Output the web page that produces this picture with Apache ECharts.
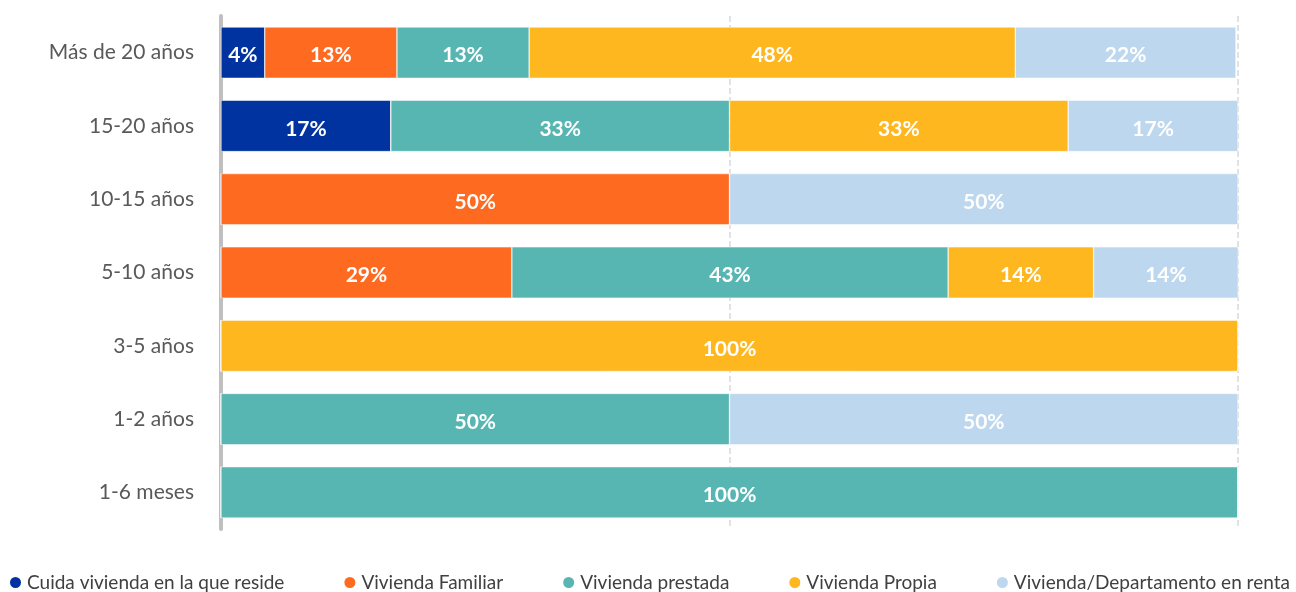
<!DOCTYPE html>
<html>
<head>
<meta charset="utf-8">
<script src="https://cdn.jsdelivr.net/npm/echarts@6/dist/echarts.min.js"></script>
<style>
  html, body { margin: 0; padding: 0; background: #fff; }
  #main { width: 1296px; height: 592px; }
</style>
</head>
<body>
<div id="main"></div>
<script>
// categorias (de abajo hacia arriba)
const categories = ['1-6 meses', '1-2 años', '3-5 años', '5-10 años', '10-15 años', '15-20 años', 'Más de 20 años'];
const seriesNames = ['Cuida vivienda en la que reside', 'Vivienda Familiar', 'Vivienda prestada', 'Vivienda Propia', 'Vivienda/Departamento en renta'];
// porcentajes por categoria
const cuida    = [0, 0, 0, 0, 0, 16.7, 4.3];
const familiar = [0, 0, 0, 28.6, 50, 0, 13.0];
const prestada = [100, 50, 0, 42.9, 0, 33.3, 13.0];
const propia   = [0, 0, 100, 14.3, 0, 33.3, 47.8];
const renta    = [0, 50, 0, 14.3, 50, 16.7, 21.7];
const xTicks = [0, 50, 100];
const colors = ['#0033a0', '#ff6a21', '#57b6b2', '#ffb71f', '#bdd7ee'];

const chart = echarts.init(document.getElementById('main'));
const allData = [cuida, familiar, prestada, propia, renta];

chart.setOption({
  animation: false,
  color: colors,
  grid: { left: 221, right: 58, top: 16, bottom: 63, containLabel: false },
  legend: {
    left: 8,
    bottom: 0,
    width: 1400,
    padding: 0,
    icon: 'circle',
    itemWidth: 13,
    itemHeight: 13,
    itemGap: 58,
    textStyle: { fontFamily: 'Lato', fontSize: 19, color: '#404040' },
    data: seriesNames
  },
  xAxis: {
    type: 'value',
    min: xTicks[0],
    max: xTicks[xTicks.length - 1],
    interval: 50,
    axisLabel: { show: false },
    axisLine: { show: false },
    axisTick: { show: false },
    splitLine: { show: true, lineStyle: { color: '#d9d9d9', type: 'dashed', width: 1.5 } }
  },
  yAxis: {
    type: 'category',
    data: categories,
    axisTick: { show: false },
    axisLine: { show: true, lineStyle: { color: '#bfbfbf', width: 4, cap: 'round' } },
    axisLabel: { margin: 27, fontFamily: 'Lato', fontSize: 21, color: '#595959' }
  },
  series: seriesNames.map((name, i) => ({
    name: name,
    type: 'bar',
    stack: 'total',
    barWidth: '70%',
    data: allData[i],
    itemStyle: { borderColor: '#ffffff', borderWidth: 0.5 },
    label: {
      show: true,
      position: 'inside',
      offset: [0, 3],
      color: '#ffffff',
      fontFamily: 'Lato',
      fontWeight: 'bold',
      fontSize: 21,
      formatter: p => p.value > 0 ? Math.round(p.value) + '%' : ''
    }
  }))
});
</script>
</body>
</html>
